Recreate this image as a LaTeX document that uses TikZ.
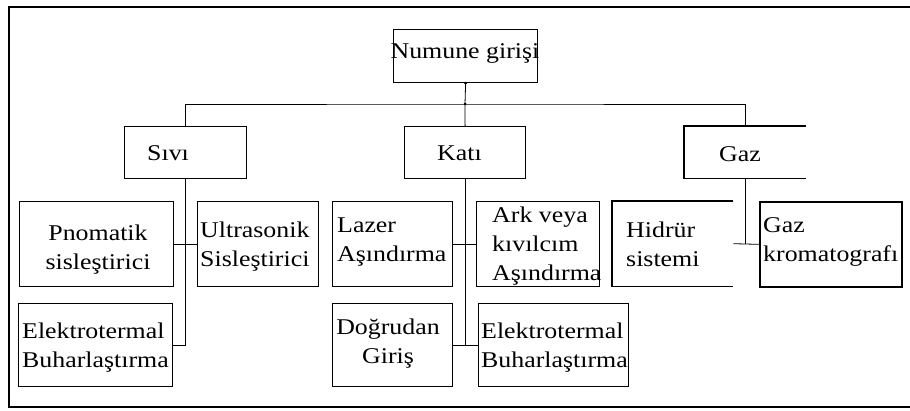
\documentclass[tikz,border=0pt]{standalone}
\usepackage{fontspec}
\setmainfont[FakeStretch=1.15]{Liberation Serif}
\begin{document}
\begin{tikzpicture}[x=1pt,y=-1pt,
  box/.style={draw, line width=1.2pt, inner sep=0pt, anchor=north west},
  openbox/.style={inner sep=0pt, anchor=north west},
  lbl/.style={inner sep=0pt, font=\fontsize{22.5}{29}\selectfont},
  conn/.style={line width=0.8pt},
  jdot/.style={circle, fill=black, inner sep=0pt, minimum size=3pt}]
\useasboundingbox (0,0) rectangle (910,411);
% frame
\draw[line width=1.6pt] (915,7) -- (9,7) -- (9,407) -- (915,407);
% boxes
\node[box, minimum width=144pt, minimum height=53pt] (root) at (393,29) {};
\node[box, minimum width=122pt, minimum height=52pt] (sivi) at (124,126) {};
\node[box, minimum width=121pt, minimum height=52pt] (kati) at (404,126) {};
\node[openbox, minimum width=122pt, minimum height=52pt] (gaz) at (684,126) {};
\draw[line width=1.2pt] (gaz.north east) -- (gaz.north west) -- (gaz.south west) -- (gaz.south east);
\node[box, minimum width=154pt, minimum height=85pt] (pno) at (19,201) {};
\node[box, minimum width=121pt, minimum height=85pt] (ultra) at (197,201) {};
\node[box, minimum width=120pt, minimum height=85pt] (lazer) at (332,201) {};
\node[box, minimum width=123pt, minimum height=85pt] (ark) at (476,201) {};
\node[openbox, minimum width=121pt, minimum height=85pt] (hid) at (612,201) {};
\draw[line width=1.2pt] (hid.north east) -- (hid.north west) -- (hid.south west) -- (hid.south east);
\node[box, line width=1.7pt, minimum width=142pt, minimum height=85pt] (gk) at (759,201) {};
\node[box, minimum width=154pt, minimum height=83pt] (elekA) at (18,303) {};
\node[box, minimum width=120pt, minimum height=83pt] (dog) at (332,303) {};
\node[box, minimum width=150pt, minimum height=83pt] (elekB) at (478,303) {};
% texts
\node[lbl, anchor=base] (troot) at (465,59) {Numune girişi};
\node[lbl, anchor=base west] (tsivi) at (147,161) {Sıvı};
\node[lbl, anchor=base west] (tkati) at (437,161) {Katı};
\node[lbl, anchor=base west] (tgaz) at (719,162) {Gaz};
\node[lbl, align=center, anchor=north] (tpno) at (98,219.7) {\strut Pnomatik\\sisleştirici};
\node[lbl, align=left, anchor=north west] (tultra) at (200,216.7) {\strut Ultrasonik\\Sisleştirici};
\node[lbl, align=left, anchor=north west] (tlazer) at (337,211.7) {\strut Lazer\\Aşındırma};
\node[lbl, align=left, anchor=north west] (tark) at (492,201.7) {\strut Ark veya\\kıvılcım\\Aşındırma};
\node[lbl, align=left, anchor=north west] (thid) at (626,216.7) {\strut Hidrür\\sistemi};
\node[lbl, align=left, anchor=north west] (tgk) at (763,211.7) {\strut Gaz\\kromatografı};
\node[lbl, align=left, anchor=north west] (telekA) at (22,317.7) {\strut Elektrotermal\\Buharlaştırma};
\node[lbl, align=center, anchor=north] (tdog) at (388,313.7) {\strut Doğrudan\\Giriş};
\node[lbl, align=left, anchor=north west] (telekB) at (481,317.7) {\strut Elektrotermal\\Buharlaştırma};
% connectors
\coordinate (bar) at (465,104);
\draw[conn] (root.south) -- (bar);
\draw[conn] (sivi.north) |- (bar) -| (gaz.north);
\draw[conn] (bar) -- (kati.north);
\draw[conn] (sivi.south) -- (sivi.south |- elekA.east) -- (elekA.east);
\draw[conn] (pno.east) -- (ultra.west);
\draw[conn] (kati.south) -- (kati.south |- dog.east);
\draw[conn] (lazer.east) -- (ark.west);
\draw[conn] (dog.east) -- (elekB.west);
\draw[conn] (gaz.south) -- (gaz.south |- hid.east);
\draw[conn] (hid.east) -- (gk.west);
\node[jdot] (d1) at (bar) {};
\node[jdot] (d2) at (root.south) {};
\end{tikzpicture}
\end{document}
